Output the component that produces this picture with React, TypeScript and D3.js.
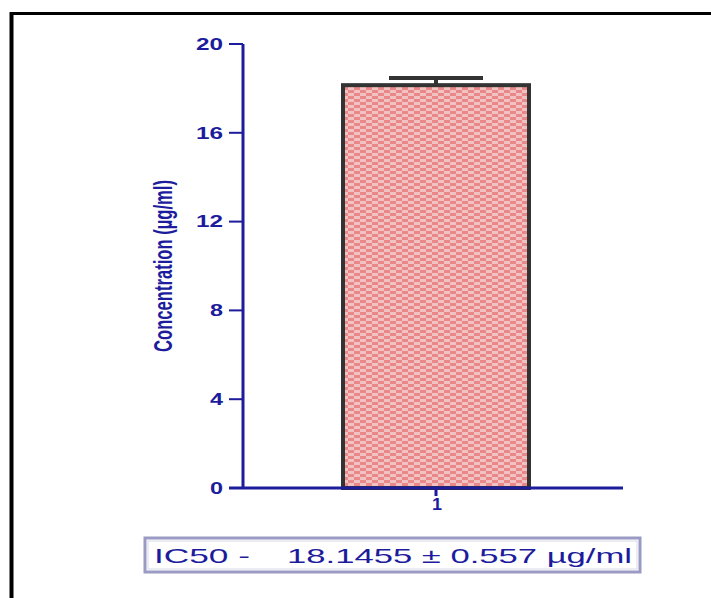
import React from "react";
import * as d3 from "d3";

const categories = ["1"];
const values = [18.1455];
const errors = [0.32];
const yTicks = [0, 4, 8, 12, 16, 20];
const yLabel = "Concentration (\u00b5g/ml)";
const notePrefix = "IC50 -";
const noteValue = "18.1455 \u00b1 0.557 \u00b5g/ml";

export default function App() {
  const W = 711, H = 598;
  const y = d3.scaleLinear().domain([0, 20]).range([488, 44]);
  const x = d3.scaleBand().domain(categories).range([243, 623]).paddingInner(0).paddingOuter(0);
  const navy = "#1c1c9c";
  const barW = 186;
  const font = "Liberation Sans, Arial, sans-serif";
  return (
    <svg width={W} height={H} style={{ position: "absolute", left: 0, top: 0 }}>
      <defs>
        <pattern id="chk" width="12" height="6" patternUnits="userSpaceOnUse">
          <rect width="12" height="6" fill="#f2c2c2" />
          <rect x="0" y="0" width="6" height="3" fill="#e88888" />
          <rect x="6" y="3" width="6" height="3" fill="#e88888" />
        </pattern>
      </defs>
      <rect width={W} height={H} fill="#fff" />
      {/* frame */}
      <line x1={10} y1={13.5} x2={W} y2={13.5} stroke="#000" strokeWidth={3} />
      <line x1={11.5} y1={12} x2={11.5} y2={H} stroke="#000" strokeWidth={4} />
      {/* bars */}
      {categories.map((c, i) => {
        const cx = (x(c) as number) + x.bandwidth() / 2 + 3;
        const top = y(values[i]);
        const eTop = y(values[i] + errors[i]);
        return (
          <g key={c}>
            <rect x={cx - barW / 2} y={top} width={barW} height={y(0) - top} fill="url(#chk)" stroke="#333" strokeWidth={4} />
            <line x1={cx} x2={cx} y1={top} y2={eTop} stroke="#333" strokeWidth={4} />
            <line x1={cx - 47} x2={cx + 47} y1={eTop} y2={eTop} stroke="#333" strokeWidth={4} />
          </g>
        );
      })}
      {/* y axis */}
      <line x1={243} x2={243} y1={y(20)} y2={y(0)} stroke={navy} strokeWidth={3} />
      {yTicks.map((t) => {
        const s = String(t);
        return (
          <g key={t}>
            <line x1={229} x2={243} y1={y(t)} y2={y(t)} stroke={navy} strokeWidth={2} />
            <text x={224 - 14 * s.length} y={y(t)} dy="0.36em" fill={navy} fontFamily={font} fontWeight="bold" fontSize={16} textLength={14 * s.length - 1} lengthAdjust="spacingAndGlyphs">
              {s}
            </text>
          </g>
        );
      })}
      {/* x axis */}
      <line x1={229} x2={623} y1={y(0)} y2={y(0)} stroke={navy} strokeWidth={3} />
      {categories.map((c) => {
        const cx = (x(c) as number) + x.bandwidth() / 2 + 3;
        return (
          <g key={c}>
            <line x1={cx} x2={cx} y1={y(0)} y2={y(0) + 8} stroke={navy} strokeWidth={3} />
            <text x={cx - 4} y={510} fill={navy} fontFamily={font} fontWeight="bold" fontSize={16} textLength={10} lengthAdjust="spacingAndGlyphs">
              {c}
            </text>
          </g>
        );
      })}
      {/* y label */}
      <text
        transform={`translate(172,266) rotate(-90)`}
        textAnchor="middle"
        fill={navy}
        fontFamily={font}
        fontWeight="bold"
        fontSize={26}
        textLength={172}
        lengthAdjust="spacingAndGlyphs"
      >
        {yLabel}
      </text>
      {/* IC50 box */}
      <rect x={145} y={538} width={495} height={34} fill="#fff" stroke="#9a9ac4" strokeWidth={3} />
      <rect x={148} y={541} width={489} height={28} fill="none" stroke="#d8d8ea" strokeWidth={1} />
      <text x={154} y={563} fill={navy} fontFamily={font} fontSize={21} textLength={96} lengthAdjust="spacingAndGlyphs">
        {notePrefix}
      </text>
      <text x={287} y={563} fill={navy} fontFamily={font} fontSize={21} textLength={345} lengthAdjust="spacingAndGlyphs">
        {noteValue}
      </text>
    </svg>
  );
}
